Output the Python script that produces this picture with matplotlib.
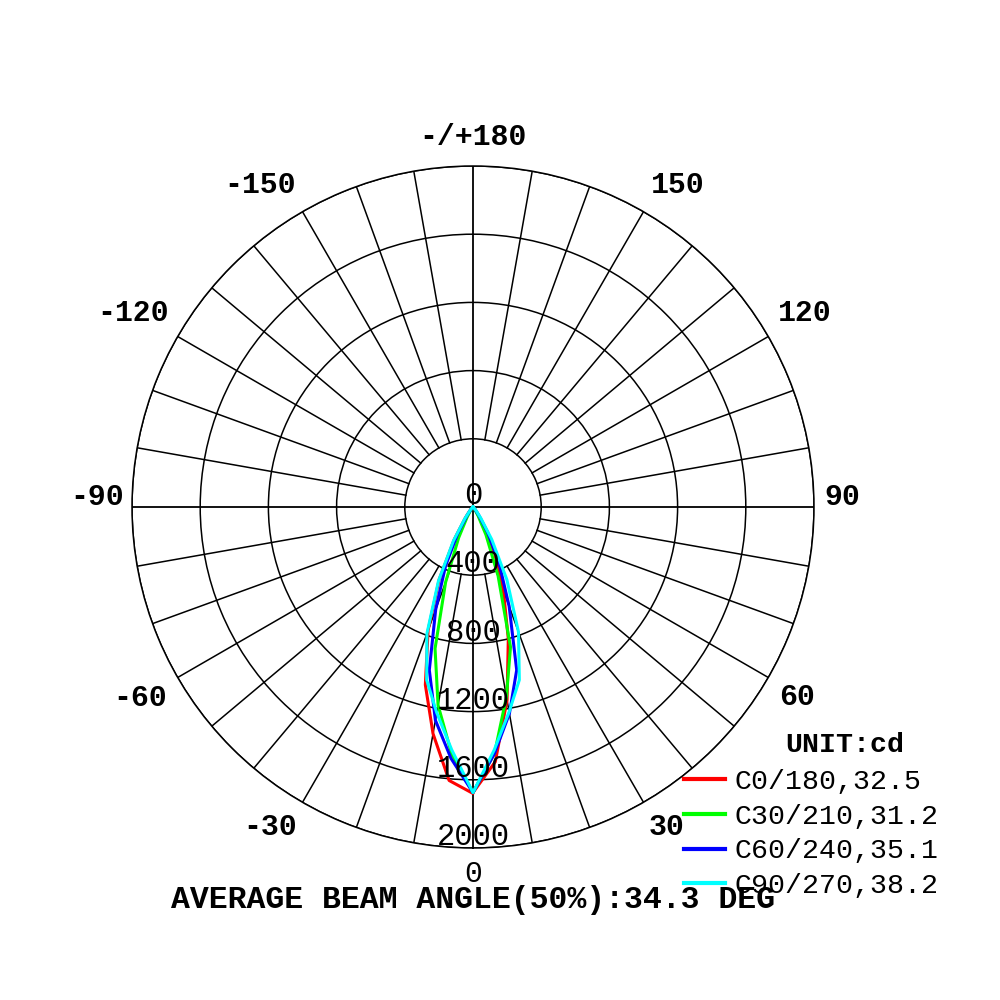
import numpy as np
import matplotlib
matplotlib.use("Agg")
import matplotlib.pyplot as plt

plt.rcParams['font.family'] = ['Liberation Mono', 'DejaVu Sans']

# gamma angles (deg) and intensities (cd)
gamma = [0, 5, 10, 15, 20, 25, 30, 35, 40, 45, 50, 55, 60, 65, 70, 75, 80, 85, 90]

c0 = [1675, 1500, 1150, 800, 520, 300, 130, 40, 15, 6, 4, 3, 2, 1, 1, 0, 0, 0, 0]
c180 = [1680, 1610, 1350, 1080, 770, 470, 220, 80, 30, 10, 5, 3, 2, 1, 1, 0, 0, 0, 0]
c30 = [1675, 1450, 1130, 850, 430, 180, 60, 20, 8, 4, 3, 2, 1, 1, 0, 0, 0, 0, 0]
c210 = [1675, 1450, 1180, 860, 470, 200, 70, 25, 10, 5, 3, 2, 1, 1, 0, 0, 0, 0, 0]
c60 = [1675, 1450, 1230, 990, 620, 360, 170, 60, 20, 8, 4, 3, 2, 1, 1, 0, 0, 0, 0]
c240 = [1675, 1480, 1270, 990, 640, 380, 180, 60, 20, 8, 4, 3, 2, 1, 1, 0, 0, 0, 0]
c90 = [1675, 1430, 1220, 1050, 780, 470, 220, 80, 30, 10, 5, 3, 2, 1, 1, 0, 0, 0, 0]
c270 = [1675, 1430, 1225, 1050, 790, 480, 230, 85, 30, 10, 5, 3, 2, 1, 1, 0, 0, 0, 0]

series = [
    ("C0/180,32.5", c0, c180, "#ff0000"),
    ("C30/210,31.2", c30, c210, "#00ff00"),
    ("C60/240,35.1", c60, c240, "#0000ff"),
    ("C90/270,38.2", c90, c270, "#00ffff"),
]

ring_values = [400, 800, 1200, 1600, 2000]
ring_labels = ["0", "400", "800", "1200", "1600", "2000"]
angle_ticks = [0, 30, 60, 90, 120, 150, 180, -150, -120, -90, -60, -30]
# where each angle label sits (theta deg, radius in cd units)
angle_label_pos = [(0, 2152), (31.2, 2195), (59.6, 2203), (91.6, 2165),
                   (120.3, 2255), (147.6, 2236), (180, 2170), (-146.5, 2264),
                   (-119.7, 2296), (-91.5, 2206), (-60.2, 2252), (-32.4, 2223)]
rmax = 2000

fig = plt.figure(figsize=(10, 10), dpi=100)
ax = fig.add_axes([0.132, 0.152, 0.682, 0.682], projection='polar')
ax.set_theta_zero_location('S')
ax.set_theta_direction(1)
ax.set_ylim(0, rmax)
ax.set_xticks([])
ax.set_yticks(ring_values)
ax.set_yticklabels([])
ax.yaxis.grid(True, color='black', lw=1.1)
ax.xaxis.grid(False)
ax.spines['polar'].set_color('black')
ax.spines['polar'].set_linewidth(1.1)

# spokes every 10 deg, from the inner ring outwards
for a in range(0, 360, 10):
    th = np.deg2rad(a)
    if a % 90 == 0:
        ax.plot([th, th], [0, rmax], color='black', lw=1.3, zorder=2)
    else:
        ax.plot([th, th], [ring_values[0], rmax], color='black', lw=1.1, zorder=2)

# light distribution curves
handles = []
for label, right, left, color in series:
    th = np.deg2rad(np.concatenate([-np.array(gamma[::-1]), np.array(gamma)]))
    r = np.concatenate([np.array(left[::-1]), np.array(right)])
    line, = ax.plot(th, r, color=color, lw=2.2, label=label, zorder=3,
                    solid_joinstyle='round')
    handles.append(line)

# radial labels along the 0 direction
for i, txt in enumerate(ring_labels):
    rv = 0 if i == 0 else ring_values[i - 1]
    ax.annotate(txt, xy=(0, rv), xytext=(0, 2), textcoords='offset points',
                ha='center', va='baseline', fontsize=22, zorder=4)

# angle labels around the outside
for a, (ta, rr) in zip(angle_ticks, angle_label_pos):
    txt = "-/+180" if a == 180 else str(a)
    ax.text(np.deg2rad(ta), rr, txt, ha='center', va='center',
            fontsize=21.5, fontweight='normal' if a == 0 else 'bold',
            clip_on=False)

fig.text(0.845, 0.255, "UNIT:cd", ha='center', va='center',
         fontsize=20.3, fontweight='bold')
leg = fig.legend(handles=handles, loc='upper left', bbox_to_anchor=(0.684, 0.231),
                 frameon=False, fontsize=20.3, handlelength=1.45, handletextpad=0.35,
                 labelspacing=0.31, borderpad=0, borderaxespad=0)
for h in leg.get_lines():
    h.set_linewidth(3)

fig.text(0.473, 0.100, "AVERAGE BEAM ANGLE(50%):34.3 DEG", ha='center', va='center',
         fontsize=22.7, fontweight='bold')

fig.savefig("out.png", dpi=100, facecolor='white')
